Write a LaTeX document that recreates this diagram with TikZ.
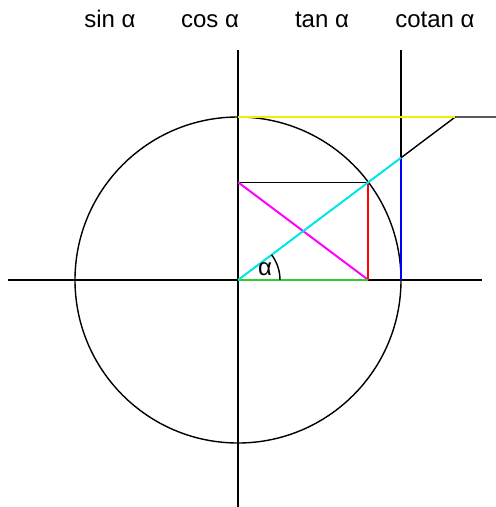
\documentclass[tikz,border=0pt]{standalone}
\usepackage{fontspec}
\setmainfont{Liberation Sans}
\usetikzlibrary{calc}
\definecolor{myyellow}{RGB}{240,240,0}
\definecolor{mycyan}{RGB}{0,230,230}
\definecolor{mymagenta}{RGB}{255,0,255}
\definecolor{myred}{RGB}{255,0,0}
\definecolor{myblue}{RGB}{0,0,255}
\definecolor{mygreen}{RGB}{50,205,50}
\begin{document}
\begin{tikzpicture}[x=1pt,y=-1pt,
  axis/.style={black,line width=1.4pt},
  seg/.style={line width=2pt},
  lbl/.style={font=\fontsize{24}{28}\selectfont,inner sep=0pt,anchor=base}]
\useasboundingbox (0,0) rectangle (496,507);
% key points
\coordinate (O) at (238,280);
\coordinate (P) at ({238+130.4},{280-97.8});
\coordinate (S) at (238,{280-97.8});
\coordinate (C) at ({238+130.4},280);
\coordinate (T) at (401,{280-122.25});
\coordinate (Tb) at (401,280);
\coordinate (K) at ({238+217.3},117);
\coordinate (Top) at (238,117);
\coordinate (Kend) at (496,117);
\coordinate (VA1) at (238,50);
\coordinate (VA2) at (238,507);
\coordinate (HA1) at (8,280);
\coordinate (HA2) at (482,280);
\coordinate (TL1) at (401,50);
% axes and circle
\draw[axis] (O) circle[radius=163];
\draw[axis] (VA1) -- (VA2);
\draw[axis] (HA1) -- (HA2);
\draw[axis] (TL1) -- (Tb);
% black segments
\draw[axis] (S) -- (P);
\draw[axis] (T) -- (K) -- (Kend);
% coloured segments
\draw[seg,myyellow] (Top) -- (K);
\draw[seg,mymagenta] (S) -- (C);
\draw[seg,myred] (P) -- (C);
\draw[seg,mygreen] (O) -- (C);
\draw[seg,myblue] (T) -- (Tb);
\draw[seg,mycyan] (O) -- (T);
% angle
\draw[axis] ($(O)+(42,0)$) arc[start angle=0,end angle=-36.87,radius=42];
\node[font=\fontsize{24}{28}\selectfont,inner sep=0pt] (alpha) at (265,269) {α};
% labels
\node[lbl] (sin) at (110,27) {sin α};
\node[lbl] (cos) at (210,27) {cos α};
\node[lbl] (tan) at (322,27) {tan α};
\node[lbl] (cot) at (435,27) {cotan α};
\end{tikzpicture}
\end{document}
